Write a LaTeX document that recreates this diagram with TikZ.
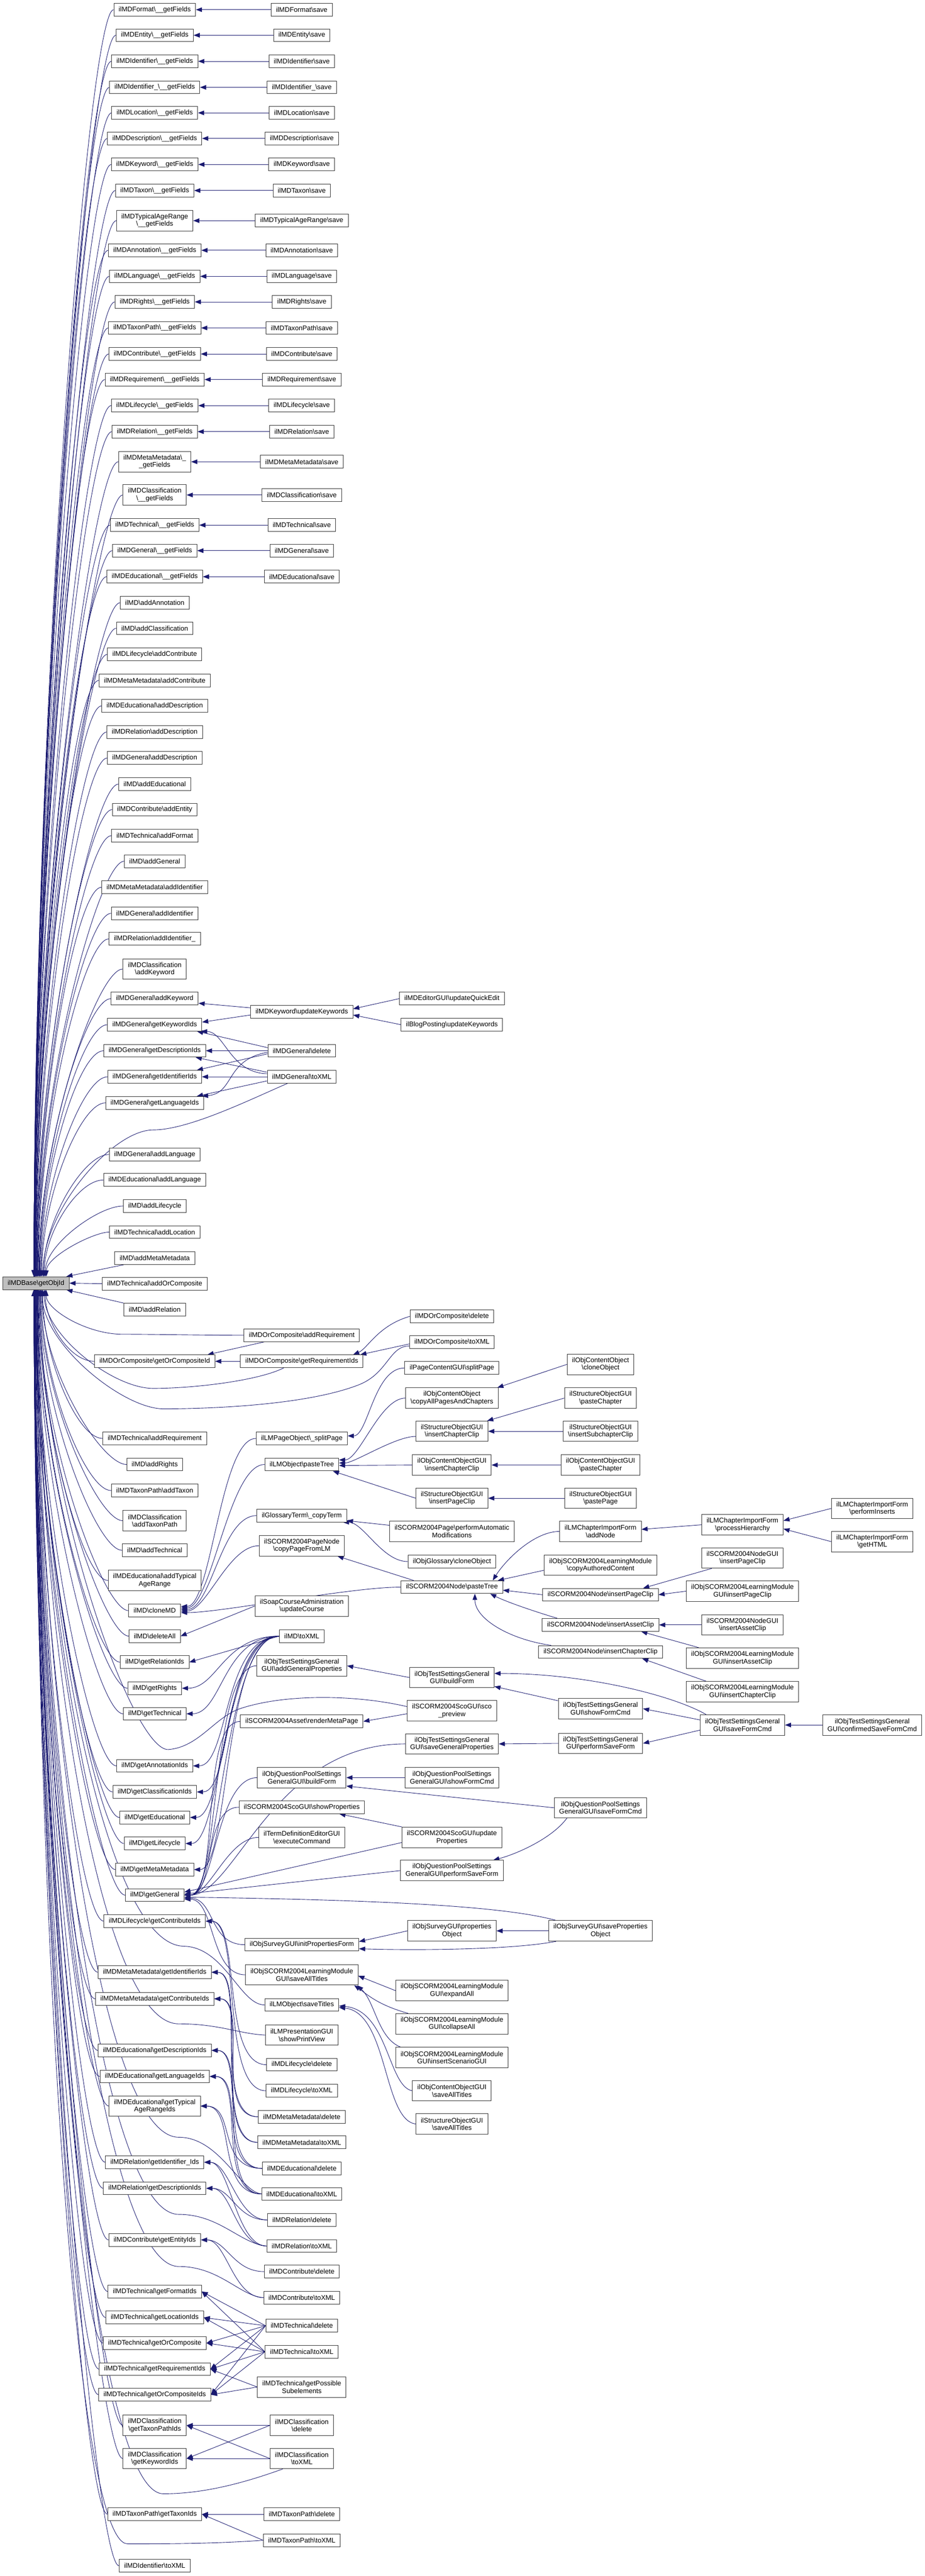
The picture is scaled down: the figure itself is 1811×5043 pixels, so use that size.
\documentclass[tikz,border=0pt]{standalone}
\usepackage{fontspec}
\setmainfont{Liberation Sans}
\usetikzlibrary{arrows.meta,calc,backgrounds}
\definecolor{navy}{HTML}{191970}
\definecolor{rootgray}{HTML}{BFBFBF}
\newcommand\bs{\textbackslash}
\newcommand\nfs{\fontsize{13.3}{14.6}\selectfont}
\tikzset{
  box/.style={draw=black!80, line width=1pt, fill=white, font=\nfs, align=center, inner xsep=9.5pt, inner ysep=2pt, minimum height=25pt},
  boxx/.style={box, minimum height=40pt},
  link/.style={draw=navy, line width=0.9pt, -{Triangle[length=12pt,width=9pt]}},
  sc/.style={to path={.. controls +(-#1,0) and +(#1,0) .. (\tikztotarget)}},
  sc/.default=60,
  scc/.style 2 args={to path={.. controls +(-#1,0) and +(#2,0) .. (\tikztotarget)}},
}
\newcommand\toRootUp[1]{\draw[link] let \p1=(#1.west), \p2=(root.north), \n1={\y1-\y2}, \n2={-4+28*max(0,1-\n1/2500)^4} in (\p1) .. controls ({\x1-min(50,0.35*\n1)},\y1) and ({\x2+\n2},{\y2+0.45*\n1}) .. ({\x2+\n2},\y2);}
\newcommand\toRootDown[1]{\draw[link] let \p1=(#1.west), \p2=(root.south), \n1={\y2-\y1}, \n2={-4+28*max(0,1-\n1/2500)^4} in (\p1) .. controls ({\x1-min(50,0.35*\n1)},\y1) and ({\x2+\n2},{\y2-0.45*\n1}) .. ({\x2+\n2},\y2);}
\begin{document}
\begin{tikzpicture}[x=1pt,y=-1pt]
\useasboundingbox (0,0) rectangle (1811,5043);
% ---------------- root
\node[box, fill=rootgray] (root) at (70.5,2512) {ilMDBase\bs{}getObjId};
% ---------------- column 1
\node[box] (f1) at (303,19) {ilMDFormat\bs\_\_getFields};
\node[box] (f2) at (303,69) {ilMDEntity\bs\_\_getFields};
\node[box] (f3) at (303,120) {ilMDIdentifier\bs\_\_getFields};
\node[box] (f4) at (303,171) {ilMDIdentifier\_\bs\_\_getFields};
\node[box] (f5) at (303,221) {ilMDLocation\bs\_\_getFields};
\node[box] (f6) at (303,271) {ilMDDescription\bs\_\_getFields};
\node[box] (f7) at (303,322) {ilMDKeyword\bs\_\_getFields};
\node[box] (f8) at (303,373) {ilMDTaxon\bs\_\_getFields};
\node[boxx] (f9) at (303,432) {ilMDTypicalAgeRange\\\bs\_\_getFields};
\node[box] (f10) at (303,490) {ilMDAnnotation\bs\_\_getFields};
\node[box] (f11) at (303,541) {ilMDLanguage\bs\_\_getFields};
\node[box] (f12) at (303,591) {ilMDRights\bs\_\_getFields};
\node[box] (f13) at (303,642) {ilMDTaxonPath\bs\_\_getFields};
\node[box] (f14) at (303,693) {ilMDContribute\bs\_\_getFields};
\node[box] (f15) at (303,743) {ilMDRequirement\bs\_\_getFields};
\node[box] (f16) at (303,794) {ilMDLifecycle\bs\_\_getFields};
\node[box] (f17) at (303,845) {ilMDRelation\bs\_\_getFields};
\node[boxx] (f18) at (303,904) {ilMDMetaMetadata\bs\_\\\_getFields};
\node[boxx] (f19) at (303,969) {ilMDClassification\\\bs\_\_getFields};
\node[box] (f20) at (303,1028) {ilMDTechnical\bs\_\_getFields};
\node[box] (f21) at (303,1078) {ilMDGeneral\bs\_\_getFields};
\node[box] (f22) at (303,1129) {ilMDEducational\bs\_\_getFields};
\node[box] (a23) at (303,1180) {ilMD\bs{}addAnnotation};
\node[box] (a24) at (303,1230) {ilMD\bs{}addClassification};
\node[box] (a25) at (303,1281) {ilMDLifecycle\bs{}addContribute};
\node[box] (a26) at (303,1332) {ilMDMetaMetadata\bs{}addContribute};
\node[box] (a27) at (303,1382) {ilMDEducational\bs{}addDescription};
\node[box] (a28) at (303,1433) {ilMDRelation\bs{}addDescription};
\node[box] (a29) at (303,1484) {ilMDGeneral\bs{}addDescription};
\node[box] (a30) at (303,1535) {ilMD\bs{}addEducational};
\node[box] (a31) at (303,1585) {ilMDContribute\bs{}addEntity};
\node[box] (a32) at (303,1636) {ilMDTechnical\bs{}addFormat};
\node[box] (a33) at (303,1686) {ilMD\bs{}addGeneral};
\node[box] (a34) at (303,1737) {ilMDMetaMetadata\bs{}addIdentifier};
\node[box] (a35) at (303,1788) {ilMDGeneral\bs{}addIdentifier};
\node[box] (a36) at (303,1838) {ilMDRelation\bs{}addIdentifier\_};
\node[boxx] (a37) at (303,1897) {ilMDClassification\\\bs{}addKeyword};
\node[box] (a38) at (303,1955) {ilMDGeneral\bs{}addKeyword};
\node[box] (a39) at (303,2006) {ilMDGeneral\bs{}getKeywordIds};
\node[box] (a40) at (303,2057) {ilMDGeneral\bs{}getDescriptionIds};
\node[box] (a41) at (303,2108) {ilMDGeneral\bs{}getIdentifierIds};
\node[box] (a42) at (303,2159) {ilMDGeneral\bs{}getLanguageIds};
\node[box] (a43) at (303,2260) {ilMDGeneral\bs{}addLanguage};
\node[box] (a44) at (303,2310) {ilMDEducational\bs{}addLanguage};
\node[box] (a45) at (303,2361) {ilMD\bs{}addLifecycle};
\node[box] (a46) at (303,2412) {ilMDTechnical\bs{}addLocation};
\node[box] (a47) at (303,2463) {ilMD\bs{}addMetaMetadata};
\node[box] (a48) at (303,2513) {ilMDTechnical\bs{}addOrComposite};
\node[box] (a49) at (303,2564) {ilMD\bs{}addRelation};
\node[box] (a50) at (303,2665) {ilMDOrComposite\bs{}getOrCompositeId};
\node[box] (a51) at (303,2816) {ilMDTechnical\bs{}addRequirement};
\node[box] (a52) at (303,2867) {ilMD\bs{}addRights};
\node[box] (a53) at (303,2918) {ilMDTaxonPath\bs{}addTaxon};
\node[boxx] (a54) at (303,2977) {ilMDClassification\\\bs{}addTaxonPath};
\node[box] (a55) at (303,3035) {ilMD\bs{}addTechnical};
\node[boxx] (a56) at (303,3094) {ilMDEducational\bs{}addTypical\\AgeRange};
\node[box] (a57) at (303,3153) {ilMD\bs{}cloneMD};
\node[box] (a58) at (303,3203) {ilMD\bs{}deleteAll};
\node[box] (a59) at (303,3254) {ilMD\bs{}getRelationIds};
\node[box] (a60) at (303,3305) {ilMD\bs{}getRights};
\node[box] (a61) at (303,3355) {ilMD\bs{}getTechnical};
\node[box] (a62) at (303,3457) {ilMD\bs{}getAnnotationIds};
\node[box] (a63) at (303,3508) {ilMD\bs{}getClassificationIds};
\node[box] (a64) at (303,3558) {ilMD\bs{}getEducational};
\node[box] (a65) at (303,3609) {ilMD\bs{}getLifecycle};
\node[box] (a66) at (303,3660) {ilMD\bs{}getMetaMetadata};
\node[box] (a67) at (303,3710) {ilMD\bs{}getGeneral};
\node[box] (a68) at (303,3761) {ilMDLifecycle\bs{}getContributeIds};
\node[box] (a69) at (303,3861) {ilMDMetaMetadata\bs{}getIdentifierIds};
\node[box] (a70) at (303,3913) {ilMDMetaMetadata\bs{}getContributeIds};
\node[box] (a71) at (303,4014) {ilMDEducational\bs{}getDescriptionIds};
\node[box] (a72) at (303,4065) {ilMDEducational\bs{}getLanguageIds};
\node[boxx] (a73) at (303,4123) {ilMDEducational\bs{}getTypical\\AgeRangeIds};
\node[box] (a74) at (303,4233) {ilMDRelation\bs{}getIdentifier\_Ids};
\node[box] (a75) at (303,4284) {ilMDRelation\bs{}getDescriptionIds};
\node[box] (a76) at (303,4385) {ilMDContribute\bs{}getEntityIds};
\node[box] (a77) at (303,4486) {ilMDTechnical\bs{}getFormatIds};
\node[box] (a78) at (303,4537) {ilMDTechnical\bs{}getLocationIds};
\node[box] (a79) at (303,4587) {ilMDTechnical\bs{}getOrComposite};
\node[box] (a80) at (303,4638) {ilMDTechnical\bs{}getRequirementIds};
\node[box] (a81) at (303,4688) {ilMDTechnical\bs{}getOrCompositeIds};
\node[boxx] (a82) at (303,4748) {ilMDClassification\\\bs{}getTaxonPathIds};
\node[boxx] (a83) at (303,4813) {ilMDClassification\\\bs{}getKeywordIds};
\node[box] (a84) at (303,4922) {ilMDTaxonPath\bs{}getTaxonIds};
\node[box] (a85) at (303,5023) {ilMDIdentifier\bs{}toXML};
% ---------------- column 2
\node[box] (s1) at (591,19) {ilMDFormat\bs{}save};
\node[box] (s2) at (591,69) {ilMDEntity\bs{}save};
\node[box] (s3) at (591,120) {ilMDIdentifier\bs{}save};
\node[box] (s4) at (591,171) {ilMDIdentifier\_\bs{}save};
\node[box] (s5) at (591,221) {ilMDLocation\bs{}save};
\node[box] (s6) at (591,271) {ilMDDescription\bs{}save};
\node[box] (s7) at (591,322) {ilMDKeyword\bs{}save};
\node[box] (s8) at (591,373) {ilMDTaxon\bs{}save};
\node[box] (s9) at (591,432) {ilMDTypicalAgeRange\bs{}save};
\node[box] (s10) at (591,490) {ilMDAnnotation\bs{}save};
\node[box] (s11) at (591,541) {ilMDLanguage\bs{}save};
\node[box] (s12) at (591,591) {ilMDRights\bs{}save};
\node[box] (s13) at (591,642) {ilMDTaxonPath\bs{}save};
\node[box] (s14) at (591,693) {ilMDContribute\bs{}save};
\node[box] (s15) at (591,743) {ilMDRequirement\bs{}save};
\node[box] (s16) at (591,794) {ilMDLifecycle\bs{}save};
\node[box] (s17) at (591,845) {ilMDRelation\bs{}save};
\node[box] (s18) at (591,904) {ilMDMetaMetadata\bs{}save};
\node[box] (s19) at (591,969) {ilMDClassification\bs{}save};
\node[box] (s20) at (591,1028) {ilMDTechnical\bs{}save};
\node[box] (s21) at (591,1078) {ilMDGeneral\bs{}save};
\node[box] (s22) at (591,1129) {ilMDEducational\bs{}save};
\node[box] (kw) at (591,1981) {ilMDKeyword\bs{}updateKeywords};
\node[box] (gdel) at (591,2057) {ilMDGeneral\bs{}delete};
\node[box] (gxml) at (591,2108) {ilMDGeneral\bs{}toXML};
\node[box] (ocar) at (591,2614) {ilMDOrComposite\bs{}addRequirement};
\node[box] (ocgr) at (591,2665) {ilMDOrComposite\bs{}getRequirementIds};
\node[box] (lmsp) at (591,2816) {ilLMPageObject\bs\_splitPage};
\node[box] (lmpt) at (591,2867) {ilLMObject\bs{}pasteTree};
\node[box] (gtct) at (591,2967) {ilGlossaryTerm\bs\_copyTerm};
\node[boxx] (scpn) at (591,3026) {ilSCORM2004PageNode\\\bs{}copyPageFromLM};
\node[boxx] (soap) at (591,3144) {ilSoapCourseAdministration\\\bs{}updateCourse};
\node[box] (mdxml) at (591,3203) {ilMD\bs{}toXML};
\node[boxx] (tsag) at (591,3261) {ilObjTestSettingsGeneral\\GUI\bs{}addGeneralProperties};
\node[box] (rmp) at (591,3370) {ilSCORM2004Asset\bs{}renderMetaPage};
\node[boxx] (qpbf) at (591,3480) {ilObjQuestionPoolSettings\\GeneralGUI\bs{}buildForm};
\node[box] (scsp) at (591,3538) {ilSCORM2004ScoGUI\bs{}showProperties};
\node[boxx] (tdec) at (591,3597) {ilTermDefinitionEditorGUI\\\bs{}executeCommand};
\node[box] (svip) at (591,3807) {ilObjSurveyGUI\bs{}initPropertiesForm};
\node[boxx] (lmsat) at (591,3866) {ilObjSCORM2004LearningModule\\GUI\bs{}saveAllTitles};
\node[box] (lmst) at (591,3925) {ilLMObject\bs{}saveTitles};
\node[boxx] (lmpv) at (591,3984) {ilLMPresentationGUI\\\bs{}showPrintView};
\node[box] (lcdel) at (591,4042) {ilMDLifecycle\bs{}delete};
\node[box] (lcxml) at (591,4093) {ilMDLifecycle\bs{}toXML};
\node[box] (mmdel) at (591,4144) {ilMDMetaMetadata\bs{}delete};
\node[box] (mmxml) at (591,4194) {ilMDMetaMetadata\bs{}toXML};
\node[box] (eddel) at (591,4245) {ilMDEducational\bs{}delete};
\node[box] (edxml) at (591,4295) {ilMDEducational\bs{}toXML};
\node[box] (rldel) at (591,4346) {ilMDRelation\bs{}delete};
\node[box] (rlxml) at (591,4397) {ilMDRelation\bs{}toXML};
\node[box] (codel) at (591,4447) {ilMDContribute\bs{}delete};
\node[box] (coxml) at (591,4498) {ilMDContribute\bs{}toXML};
\node[box] (tcdel) at (591,4553) {ilMDTechnical\bs{}delete};
\node[box] (tcxml) at (591,4604) {ilMDTechnical\bs{}toXML};
\node[boxx] (tcps) at (591,4673) {ilMDTechnical\bs{}getPossible\\Subelements};
\node[boxx] (cldel) at (591,4748) {ilMDClassification\\\bs{}delete};
\node[boxx] (clxml) at (591,4813) {ilMDClassification\\\bs{}toXML};
\node[box] (tpdel) at (591,4922) {ilMDTaxonPath\bs{}delete};
\node[box] (tpxml) at (591,4973) {ilMDTaxonPath\bs{}toXML};
% ---------------- column 3
\node[box] (qe) at (885,1955) {ilMDEditorGUI\bs{}updateQuickEdit};
\node[box] (bp) at (885,2006) {ilBlogPosting\bs{}updateKeywords};
\node[box] (ocdel) at (885,2577) {ilMDOrComposite\bs{}delete};
\node[box] (ocxml) at (885,2627) {ilMDOrComposite\bs{}toXML};
\node[box] (pcsp) at (885,2678) {ilPageContentGUI\bs{}splitPage};
\node[boxx] (coca) at (885,2737) {ilObjContentObject\\\bs{}copyAllPagesAndChapters};
\node[boxx] (sicc) at (885,2802) {ilStructureObjectGUI\\\bs{}insertChapterClip};
\node[boxx] (ocicc) at (885,2868) {ilObjContentObjectGUI\\\bs{}insertChapterClip};
\node[boxx] (sipc) at (885,2933) {ilStructureObjectGUI\\\bs{}insertPageClip};
\node[boxx] (pam) at (885,2998) {ilSCORM2004Page\bs{}performAutomatic\\Modifications};
\node[box] (ogco) at (885,3057) {ilObjGlossary\bs{}cloneObject};
\node[box] (snpt) at (885,3107) {ilSCORM2004Node\bs{}pasteTree};
\node[boxx] (tsbf) at (885,3284) {ilObjTestSettingsGeneral\\GUI\bs{}buildForm};
\node[boxx] (scpr) at (885,3349) {ilSCORM2004ScoGUI\bs{}sco\\\_preview};
\node[boxx] (tssg) at (885,3414) {ilObjTestSettingsGeneral\\GUI\bs{}saveGeneralProperties};
\node[boxx] (qpsf) at (885,3480) {ilObjQuestionPoolSettings\\GeneralGUI\bs{}showFormCmd};
\node[boxx] (scup) at (885,3597) {ilSCORM2004ScoGUI\bs{}update\\Properties};
\node[boxx] (qpps) at (885,3662) {ilObjQuestionPoolSettings\\GeneralGUI\bs{}performSaveForm};
\node[boxx] (svpo) at (885,3780) {ilObjSurveyGUI\bs{}properties\\Object};
\node[boxx] (lmea) at (885,3897) {ilObjSCORM2004LearningModule\\GUI\bs{}expandAll};
\node[boxx] (lmca) at (885,3962) {ilObjSCORM2004LearningModule\\GUI\bs{}collapseAll};
\node[boxx] (lmis) at (885,4028) {ilObjSCORM2004LearningModule\\GUI\bs{}insertScenarioGUI};
\node[boxx] (ocsat) at (885,4093) {ilObjContentObjectGUI\\\bs{}saveAllTitles};
\node[boxx] (sosat) at (885,4158) {ilStructureObjectGUI\\\bs{}saveAllTitles};
% ---------------- column 4
\node[boxx] (cco) at (1176,2671) {ilObjContentObject\\\bs{}cloneObject};
\node[boxx] (spc) at (1176,2737) {ilStructureObjectGUI\\\bs{}pasteChapter};
\node[boxx] (sisc) at (1176,2802) {ilStructureObjectGUI\\\bs{}insertSubchapterClip};
\node[boxx] (ocpc) at (1176,2868) {ilObjContentObjectGUI\\\bs{}pasteChapter};
\node[boxx] (spp) at (1176,2933) {ilStructureObjectGUI\\\bs{}pastePage};
\node[boxx] (ciad) at (1176,2998) {ilLMChapterImportForm\\\bs{}addNode};
\node[boxx] (lmcac) at (1176,3064) {ilObjSCORM2004LearningModule\\\bs{}copyAuthoredContent};
\node[box] (snipc) at (1176,3122) {ilSCORM2004Node\bs{}insertPageClip};
\node[box] (sniac) at (1176,3181) {ilSCORM2004Node\bs{}insertAssetClip};
\node[box] (snicc) at (1176,3234) {ilSCORM2004Node\bs{}insertChapterClip};
\node[boxx] (tssf) at (1176,3345) {ilObjTestSettingsGeneral\\GUI\bs{}showFormCmd};
\node[boxx] (tsps) at (1176,3413) {ilObjTestSettingsGeneral\\GUI\bs{}performSaveForm};
\node[boxx] (qpsv) at (1176,3539) {ilObjQuestionPoolSettings\\GeneralGUI\bs{}saveFormCmd};
\node[boxx] (svsp) at (1176,3780) {ilObjSurveyGUI\bs{}saveProperties\\Object};
% ---------------- column 5
\node[boxx] (ciph) at (1454,2985) {ilLMChapterImportForm\\\bs{}processHierarchy};
\node[boxx] (ngipc) at (1454,3050) {ilSCORM2004NodeGUI\\\bs{}insertPageClip};
\node[boxx] (lmipc) at (1454,3115) {ilObjSCORM2004LearningModule\\GUI\bs{}insertPageClip};
\node[boxx] (ngiac) at (1454,3181) {ilSCORM2004NodeGUI\\\bs{}insertAssetClip};
\node[boxx] (lmiac) at (1454,3246) {ilObjSCORM2004LearningModule\\GUI\bs{}insertAssetClip};
\node[boxx] (lmicc) at (1454,3312) {ilObjSCORM2004LearningModule\\GUI\bs{}insertChapterClip};
\node[boxx] (tssv) at (1454,3377) {ilObjTestSettingsGeneral\\GUI\bs{}saveFormCmd};
% ---------------- column 6
\node[boxx] (cipi) at (1708,2953) {ilLMChapterImportForm\\\bs{}performInserts};
\node[boxx] (cigh) at (1708,3018) {ilLMChapterImportForm\\\bs{}getHTML};
\node[boxx] (tscs) at (1708,3377) {ilObjTestSettingsGeneral\\GUI\bs{}confirmedSaveFormCmd};
% ================= edges (drawn below the boxes)
\begin{pgfonlayer}{background}
\fill[white] (0,0) rectangle (1811,5043);
% save -> __getFields
\foreach \i in {1,...,22} {\draw[link] (s\i.west) -- (f\i.east);}
% column 1 -> root
\foreach \i in {1,...,22} {\toRootUp{f\i}}
\foreach \i in {23,...,46} {\toRootUp{a\i}}
\draw[link] ($(a47.south west)+(18,0)$) -- ($(root.north east)+(-6,0)$);
\draw[link] (a48.west) -- (root.east);
\draw[link] (a49.north west) -- ($(root.south east)+(-6,0)$);
\foreach \i in {50,...,85} {\toRootDown{a\i}}
% keyword cluster
\draw[link] ($(kw.west)+(0,-8)$) -- ($(a38.east)+(0,9)$);
\draw[link] ($(kw.west)+(0,6)$) -- ($(a39.east)+(0,-5)$);
\draw[link] (qe.west) -- ($(kw.east)+(0,-6)$);
\draw[link] (bp.west) -- ($(kw.east)+(0,6)$);
\draw[link] ($(gdel.west)+(0,-6)$) -- ($(a39.south east)+(-10,0)$);
\draw[link] (gdel.west) -- (a40.east);
\draw[link] ($(gdel.west)+(0,6)$) -- ($(a41.north east)+(-10,0)$);
\draw[link] ($(gdel.west)+(0,3)$) .. controls (440,2075) and (460,2140) .. ($(a42.north east)+(-4,0)$);
\draw[link] ($(gxml.west)+(0,-6)$) .. controls (450,2100) and (440,2020) .. ($(a39.south east)+(-2,0)$);
\draw[link] ($(gxml.west)+(0,-9)$) -- ($(a40.south east)+(-20,0)$);
\draw[link] (gxml.west) -- (a41.east);
\draw[link] ($(gxml.west)+(0,8)$) -- ($(a42.north east)+(-14,0)$);
\draw[link] ($(gxml.south west)+(40,0)$) .. controls +(-70,30) and (370,2212) .. (300,2212) .. controls (220,2212) and ($(root.north)+(14,-129)$) .. ($(root.north)+(14,0)$);
% OrComposite cluster
\draw[link] (ocar.west) .. controls +(-80,0) and (300,2612) .. (240,2612) .. controls (170,2612) and ($(root.south)+(20,39)$) .. ($(root.south)+(20,0)$);
\draw[link] ($(ocar.south west)+(40,0)$) -- ($(a50.north east)+(-15,0)$);
\draw[link] (ocgr.west) -- (a50.east);
\draw[link] ($(ocgr.south west)+(85,0)$) .. controls +(-50,25) and (380,2718) .. (300,2718) .. controls (220,2718) and ($(root.south)+(16,87)$) .. ($(root.south)+(16,0)$);
\draw[link] (ocdel.west) .. controls (740,2595) and (720,2640) .. ($(ocgr.north east)+(-20,0)$);
\draw[link] ($(ocxml.west)+(0,4)$) -- ($(ocgr.north east)+(-6,0)$);
\draw[link] ($(ocxml.west)+(0,8)$) .. controls +(-40,0) and (760,2690) .. (700,2712) .. controls (600,2750) and (420,2758) .. (320,2758) .. controls (240,2758) and ($(root.south)+(12,105)$) .. ($(root.south)+(12,0)$);
% cloneMD cluster
\draw[link] (lmsp.west) to[scc={70}{60}] ($(a57.east)+(0,-8)$);
\draw[link] (lmpt.west) to[scc={70}{60}] ($(a57.east)+(0,-5)$);
\draw[link] (gtct.west) to[scc={70}{60}] ($(a57.east)+(0,-2)$);
\draw[link] (scpn.west) to[scc={60}{50}] ($(a57.east)+(0,1)$);
\draw[link] (snpt.west) to[scc={100}{80}] ($(a57.east)+(0,4)$);
\draw[link] (pcsp.west) to[scc={60}{40}] ($(lmsp.east)+(0,-5)$);
\draw[link] (coca.west) to[scc={50}{40}] ($(lmpt.east)+(0,-9)$);
\draw[link] ($(sicc.west)+(0,10)$) to[scc={40}{30}] ($(lmpt.east)+(0,-3)$);
\draw[link] (ocicc.west) -- ($(lmpt.east)+(0,2)$);
\draw[link] (sipc.west) -- ($(lmpt.south east)+(-12,0)$);
\draw[link] (cco.west) -- ($(coca.north east)+(-2,0)$);
\draw[link] (spc.west) -- ($(sicc.north east)+(-2,0)$);
\draw[link] (sisc.west) -- (sicc.east);
\draw[link] (ocpc.west) -- (ocicc.east);
\draw[link] (spp.west) -- (sipc.east);
\draw[link] ($(pam.west)+(0,-12)$) -- ($(gtct.south east)+(0,-3)$);
\draw[link] (ogco.west) to[scc={50}{40}] ($(gtct.south east)+(-8,0)$);
\draw[link] ($(snpt.north west)+(25,0)$) -- ($(scpn.south east)+(-14,0)$);
\draw[link] (ciad.west) .. controls +(-50,0) and +(25,-40) .. ($(snpt.north east)+(-20,0)$);
\draw[link] ($(lmcac.west)+(0,10)$) -- ($(snpt.north east)+(-10,0)$);
\draw[link] (snipc.west) -- ($(snpt.east)+(0,6)$);
\draw[link] ($(sniac.north west)+(30,0)$) .. controls (1080,3165) and (1000,3140) .. ($(snpt.south east)+(-25,0)$);
\draw[link] ($(snicc.north west)+(25,0)$) .. controls (1000,3210) and (930,3170) .. ($(snpt.south east)+(-55,0)$);
\draw[link] (ciph.west) -- ($(ciad.east)+(0,-4)$);
\draw[link] (cipi.west) -- ($(ciph.east)+(0,-8)$);
\draw[link] (cigh.west) -- ($(ciph.east)+(0,8)$);
\draw[link] ($(ngipc.south west)+(20,0)$) -- ($(snipc.north east)+(-30,0)$);
\draw[link] (lmipc.west) -- (snipc.east);
\draw[link] (ngiac.west) -- (sniac.east);
\draw[link] ($(lmiac.north west)+(25,0)$) -- ($(sniac.south east)+(-35,0)$);
\draw[link] ($(lmicc.north west)+(40,0)$) -- ($(snicc.south east)+(-40,0)$);
\draw[link] (soap.west) -- (a58.east);
% ilMD::toXML
\draw[link] (mdxml.west) -- (a59.east);
\foreach \i in {60,...,67} {\draw[link] (mdxml.west) to[scc={110}{70}] (a\i.east);}
% getGeneral callers
\draw[link] (tsag.west) to[scc={90}{70}] (a67.east);
\draw[link] (rmp.west) to[scc={80}{70}] (a67.east);
\draw[link] (qpbf.west) to[scc={80}{60}] (a67.east);
\draw[link] (scsp.west) to[scc={70}{60}] (a67.east);
\draw[link] (tdec.west) to[scc={60}{50}] (a67.east);
\draw[link] ($(scup.west)+(0,10)$) -- ($(a67.east)+(0,-6)$);
\draw[link] (qpps.west) -- ($(a67.east)+(0,-2)$);
\draw[link] (tssg.west) to[scc={260}{100}] (a67.east);
\draw[link] ($(svsp.north west)+(15,0)$) .. controls (1000,3735) and (800,3720) .. ($(a67.east)+(0,4)$);
\draw[link] (svip.west) to[scc={70}{60}] ($(a67.east)+(0,6)$);
\draw[link] (lmsat.west) to[scc={70}{60}] ($(a67.east)+(0,8)$);
% test settings / question pool / sco
\draw[link] (tsbf.west) -- (tsag.east);
\draw[link] ($(tssf.north west)+(0,5)$) -- ($(tsbf.south east)+(0,-3)$);
\draw[link] ($(tssv.north west)+(12,0)$) .. controls (1320,3320) and (1150,3276) .. ($(tsbf.east)+(0,-8)$);
\draw[link] ($(tssv.west)+(0,-10)$) -- (tssf.east);
\draw[link] ($(tssv.west)+(0,10)$) -- (tsps.east);
\draw[link] (tscs.west) -- (tssv.east);
\draw[link] (tsps.west) -- (tssg.east);
\draw[link] ($(scpr.west)+(0,6)$) -- (rmp.east);
\draw[link] ($(scpr.west)+(0,-8)$) .. controls (700,3318) and (560,3315) .. (470,3345) .. controls (420,3362) and (390,3420) .. (330,3425) .. controls (260,3430) and ($(root.south)+(8,405)$) .. ($(root.south)+(8,0)$);
\draw[link] (scup.north west) -- ($(scsp.south east)+(-50,0)$);
\draw[link] (qpsf.west) -- (qpbf.east);
\draw[link] (qpsv.west) -- ($(qpbf.south east)+(0,-4)$);
\draw[link] ($(qpsv.south west)+(25,0)$) .. controls (1080,3600) and (1010,3630) .. ($(qpps.north east)+(-20,0)$);
% survey / learning module / titles
\draw[link] (svpo.west) -- ($(svip.east)+(0,-6)$);
\draw[link] ($(svsp.south west)+(15,0)$) .. controls (1000,3818) and (800,3818) .. ($(svip.east)+(0,8)$);
\draw[link] (svsp.west) -- (svpo.east);
\draw[link] (lmea.west) -- ($(lmsat.east)+(0,2)$);
\draw[link] ($(lmca.north west)+(25,0)$) .. controls (740,3925) and (720,3905) .. ($(lmsat.south east)+(-8,0)$);
\draw[link] ($(lmis.north west)+(10,0)$) .. controls (740,3990) and (735,3920) .. ($(lmsat.south east)+(-2,0)$);
\draw[link] (ocsat.west) .. controls (760,4085) and (760,3935) .. ($(lmst.east)+(0,2)$);
\draw[link] (sosat.west) .. controls (750,4150) and (760,3940) .. ($(lmst.east)+(0,5)$);
\draw[link] (lmst.west) .. controls (470,3925) and (440,3812) .. (360,3810) .. controls (200,3808) and ($(root.south)+(4,578)$) .. ($(root.south)+(4,0)$);
\draw[link] (lmpv.west) .. controls (470,3982) and (430,3962) .. (350,3962) .. controls (190,3962) and ($(root.south)+(3,647)$) .. ($(root.south)+(3,0)$);
% delete / toXML -> getters
\draw[link] (lcdel.west) to[scc={90}{70}] (a68.east);
\draw[link] (lcxml.west) to[scc={90}{70}] (a68.east);
\foreach \sr in {mmdel,mmxml} \foreach \tg in {a69,a70} {\draw[link] (\sr.west) to[scc={90}{70}] (\tg.east);}
\foreach \sr in {eddel,edxml} \foreach \tg in {a71,a72,a73} {\draw[link] (\sr.west) to[scc={90}{70}] (\tg.east);}
\foreach \sr in {rldel,rlxml} \foreach \tg in {a74,a75} {\draw[link] (\sr.west) to[scc={60}{50}] (\tg.east);}
\foreach \sr in {codel,coxml} {\draw[link] (\sr.west) to[scc={60}{50}] (a76.east);}
\foreach \sr in {tcdel,tcxml} \foreach \tg in {a77,a78,a79,a80,a81} {\draw[link] (\sr.west) -- (\tg.east);}
\draw[link] (tcps.west) -- (a80.east);
\draw[link] (tcps.west) -- (a81.east);
\foreach \sr in {cldel,clxml} \foreach \tg in {a82,a83} {\draw[link] (\sr.west) -- (\tg.east);}
\draw[link] (tpdel.west) -- (a84.east);
\draw[link] (tpxml.west) -- (a84.east);
% toXML -> root
\draw[link] (edxml.west) .. controls (470,4290) and (430,4184) .. (350,4184) .. controls (190,4184) and ($(root.south)+(2,747)$) .. ($(root.south)+(2,0)$);
\draw[link] (rlxml.west) .. controls (470,4392) and (430,4335) .. (350,4335) .. controls (190,4335) and ($(root.south)+(1,815)$) .. ($(root.south)+(1,0)$);
\draw[link] (coxml.west) .. controls (470,4495) and (430,4437) .. (350,4437) .. controls (190,4437) and ($(root.south)+(0,860)$) .. (root.south);
\draw[link] ($(clxml.south west)+(25,0)$) .. controls (480,4860) and (400,4882) .. (320,4882) .. controls (170,4882) and ($(root.south)+(-1,1060)$) .. ($(root.south)+(-1,0)$);
\draw[link] (tpxml.west) .. controls (420,4980) and (320,4980) .. (250,4980) .. controls (140,4980) and ($(root.south)+(-2,1105)$) .. ($(root.south)+(-2,0)$);
\end{pgfonlayer}
\end{tikzpicture}
\end{document}
